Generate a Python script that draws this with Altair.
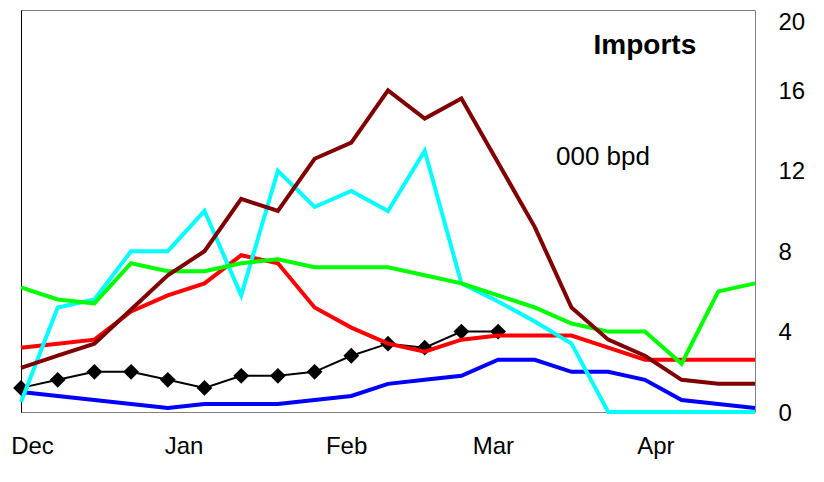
import altair as alt
import pandas as pd

# weekly observations, Dec 1 to Apr 20
weeks = [d.strftime("%Y-%m-%d") for d in pd.date_range("2008-12-01", periods=21, freq="7D")]

cyan_vals   = [0.5, 5.2, 5.6, 8.0, 8.0, 10.0, 5.8, 12.0, 10.2, 11.0, 10.0, 13.0, 6.4, 5.5, 4.5, 3.4, 0, 0, 0, 0, 0]
blue_vals   = [1.0, 0.8, 0.6, 0.4, 0.2, 0.4, 0.4, 0.4, 0.6, 0.8, 1.4, 1.6, 1.8, 2.6, 2.6, 2.0, 2.0, 1.6, 0.6, 0.4, 0.2]
red_vals    = [3.2, 3.4, 3.6, 5.0, 5.8, 6.4, 7.8, 7.4, 5.2, 4.2, 3.4, 3.0, 3.6, 3.8, 3.8, 3.8, 3.2, 2.6, 2.6, 2.6, 2.6]
green_vals  = [6.2, 5.6, 5.4, 7.4, 7.0, 7.0, 7.4, 7.6, 7.2, 7.2, 7.2, 6.8, 6.4, 5.8, 5.2, 4.4, 4.0, 4.0, 2.4, 6.0, 6.4]
maroon_vals = [2.2, 2.8, 3.4, 5.1, 6.8, 8.0, 10.6, 10.0, 12.6, 13.4, 16.0, 14.6, 15.6, 12.4, 9.2, 5.2, 3.6, 2.8, 1.6, 1.4, 1.4]
black_vals  = [1.2, 1.6, 2.0, 2.0, 1.6, 1.2, 1.8, 1.8, 2.0, 2.8, 3.4, 3.2, 4.0, 4.0]

series_order = ["blue", "black", "red", "cyan", "green", "maroon"]
series_vals = {"blue": blue_vals, "black": black_vals, "red": red_vals,
               "cyan": cyan_vals, "green": green_vals, "maroon": maroon_vals}
series_color = {"blue": "#0000FF", "black": "#000000", "red": "#FF0000",
                "cyan": "#00FFFF", "green": "#00FF00", "maroon": "#800000"}

month_ticks = [alt.DateTime(year=2008, month=12, date=1, utc=True),
               alt.DateTime(year=2009, month=1, date=1, utc=True),
               alt.DateTime(year=2009, month=2, date=1, utc=True),
               alt.DateTime(year=2009, month=3, date=1, utc=True),
               alt.DateTime(year=2009, month=4, date=1, utc=True)]
y_ticks = [0, 4, 8, 12, 16, 20]

ann_text = ["Imports", "000 bpd"]
ann_date = ["2009-03-30", "2009-03-22"]
ann_y = [18.2, 12.7]
ann_weight = ["bold", "normal"]
ann_size = [28, 26]

FONT = "Liberation Sans"

xscale = alt.Scale(type="utc", domain=[weeks[0], weeks[-1]], nice=False)
yscale = alt.Scale(domain=[0, 20], nice=False)

xaxis = alt.Axis(values=month_ticks, labelExpr="utcFormat(datum.value, '%b')", title=None,
                 domain=False, ticks=False, grid=False, labelFont=FONT,
                 labelFontSize=24, labelColor="black", labelPadding=22,
                 labelOverlap=False, labelFlush=False,
                 labelOffset={"condition": {"test": "utcmonth(datum.value) == 11", "value": 11},
                              "value": 0})
yaxis = alt.Axis(orient="right", values=y_ticks, title=None,
                 domain=False, ticks=False, tickSize=0, grid=False, labelFont=FONT,
                 labelFontSize=24, labelColor="black", labelPadding=23,
                 labelFlush=False, labelAlign="left", labelBaseline="middle",
                 labelOffset={"condition": {"test": "datum.value == 20", "value": 12},
                              "value": 1})

layers = []
for name in series_order:
    vals = series_vals[name]
    df = pd.DataFrame({"week": weeks[:len(vals)], "value": vals})
    enc = dict(x=alt.X("week:T", scale=xscale, axis=xaxis),
               y=alt.Y("value:Q", scale=yscale, axis=yaxis))
    if name == "black":
        m = alt.Chart(df).mark_line(color="black", strokeWidth=2,
                                    point=alt.OverlayMarkDef(shape="diamond", size=250,
                                                             filled=True, color="black",
                                                             opacity=1))
    else:
        m = alt.Chart(df).mark_line(color=series_color[name], strokeWidth=4,
                                    strokeJoin="miter")
    layers.append(m.encode(**enc))

ann_df = pd.DataFrame({"text": ann_text, "date": ann_date, "y": ann_y})
for i in range(len(ann_text)):
    t = alt.Chart(ann_df.iloc[[i]]).mark_text(
        font=FONT, fontSize=ann_size[i], fontWeight=ann_weight[i],
        color="black", align="center", baseline="middle"
    ).encode(x=alt.X("date:T", scale=xscale, axis=xaxis),
             y=alt.Y("y:Q", scale=yscale, axis=yaxis),
             text="text:N")
    layers.append(t)

inner = alt.layer(*layers)

left_df = pd.DataFrame({"week": [weeks[0]], "value": [0]})
left_line = alt.Chart(left_df).mark_point(opacity=0).encode(
    x=alt.X("week:T", scale=xscale, axis=xaxis),
    y=alt.Y("value:Q", scale=yscale,
            axis=alt.Axis(orient="left", labels=False, ticks=False, grid=False,
                          title=None, domain=True, domainColor="black",
                          domainWidth=1)))

chart = alt.layer(inner, left_line).resolve_axis(y="independent").properties(
    width=734, height=402,
    autosize=alt.AutoSizeParams(type="none"),
    padding={"left": 13, "top": 2, "right": 61, "bottom": 56},
    background="white",
).configure_view(stroke="#808080", strokeWidth=1)

chart.save("out.html", embed_options={"renderer": "svg", "actions": False})
